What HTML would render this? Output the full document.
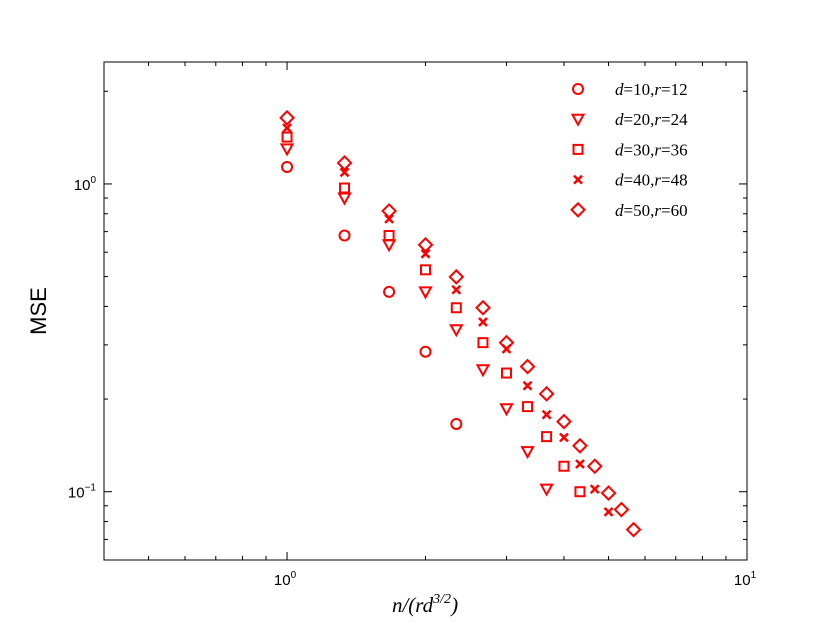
<!DOCTYPE html>
<html><head><meta charset="utf-8"><style>
html,body{margin:0;padding:0;background:#fff;}
svg{display:block;font-family:"Liberation Sans",sans-serif;}
.m{font-family:"Liberation Serif",serif;font-style:italic;}
</style></head><body>
<svg id="chart" width="830" height="623" viewBox="0 0 830 623"></svg>
<script>
const seriesLabels = ["d=10,r=12","d=20,r=24","d=30,r=36","d=40,r=48","d=50,r=60"];
const seriesMarkers = ["circle","triangle","square","x","diamond"];
const mse10 = [1.135,0.68,0.446,0.285,0.166];
const mse20 = [1.30,0.90,0.634,0.446,0.336,0.249,0.186,0.135,0.102];
const mse30 = [1.42,0.97,0.68,0.526,0.396,0.305,0.243,0.189,0.151,0.121,0.100];
const mse40 = [1.52,1.09,0.77,0.593,0.453,0.356,0.291,0.221,0.178,0.150,0.123,0.102,0.086];
const mse50 = [1.64,1.17,0.817,0.634,0.499,0.396,0.305,0.255,0.208,0.169,0.141,0.121,0.099,0.0875,0.0753];
const xStart = 1, xStep = 1/3;
const xTickLabels = ["0","1"];
const yTickLabels = ["-1","0"];

const NS="http://www.w3.org/2000/svg";
const svg=document.getElementById('chart');
const L=104,R=747,T=62,B=560;
const xmin=Math.log10(0.4),xmax=Math.log10(10);
const ymin=Math.log10(0.06),ymax=Math.log10(2.49);
const X=v=>L+(Math.log10(v)-xmin)/(xmax-xmin)*(R-L);
const Y=v=>B-(Math.log10(v)-ymin)/(ymax-ymin)*(B-T);
function mk(tag,attrs,parent){const e=document.createElementNS(NS,tag);for(const k in attrs)e.setAttribute(k,attrs[k]);(parent||svg).appendChild(e);return e;}

const frame=mk('rect',{x:L,y:T,width:R-L,height:B-T,fill:'none',stroke:'#000','stroke-width':1});



const tg=mk('g',{stroke:'#000','stroke-width':1});


function xt(v,len){const x=X(v);mk('line',{x1:x,y1:B,x2:x,y2:B-len},tg);mk('line',{x1:x,y1:T,x2:x,y2:T+len},tg);}
function yt(v,len){const y=Y(v);mk('line',{x1:L,y1:y,x2:L+len,y2:y},tg);mk('line',{x1:R,y1:y,x2:R-len,y2:y},tg);}
[0.5,0.6,0.7,0.8,0.9,2,3,4,5,6,7,8,9].forEach(v=>xt(v,4));
[1,10].forEach(v=>xt(v,8));
[0.07,0.08,0.09,0.2,0.3,0.4,0.5,0.6,0.7,0.8,0.9,2].forEach(v=>yt(v,4));
[0.1,1].forEach(v=>yt(v,8));

xTickLabels.forEach(p=>{
  const v=Math.pow(10,+p);
  const t=mk('text',{x:X(v)-2,y:B+25,'text-anchor':'middle','font-size':15});
  
  
  t.innerHTML='10<tspan dy="-7" font-size="10">'+p+'</tspan>';
});
yTickLabels.forEach(p=>{
  const v=Math.pow(10,+p);
  const t=mk('text',{x:L-8,y:Y(v)+6,'text-anchor':'end','font-size':15});
  
  
  t.innerHTML='10<tspan dy="-7" font-size="10">'+p.replace('-','\u2212')+'</tspan>';
});

const yl=mk('text',{x:0,y:0,transform:'translate(46,311) rotate(-90)','text-anchor':'middle','font-size':22});


yl.textContent='MSE';
const xl=mk('text',{x:425,y:612,'text-anchor':'middle','font-size':21,class:'m'});


xl.innerHTML='n/(rd<tspan dy="-9" font-size="14">3/2</tspan><tspan dy="9">)</tspan>';

function marker(type,cx,cy,g){
  const s={fill:'none',stroke:'#f00','stroke-width':2};
  if(type==='circle')return mk('circle',Object.assign({cx,cy,r:5},s),g);
  if(type==='triangle')return mk('polygon',Object.assign({points:`${cx-5.5},${cy-4.5} ${cx+5.5},${cy-4.5} ${cx},${cy+5.5}`},s),g);
  if(type==='square')return mk('rect',Object.assign({x:cx-4.5,y:cy-4.5,width:9,height:9},s),g);
  if(type==='x'){const p=mk('path',Object.assign({d:`M${cx-4},${cy-4}L${cx+4},${cy+4}M${cx-4},${cy+4}L${cx+4},${cy-4}`},s),g);p.setAttribute('stroke-width',2.5);return p;}
  return mk('polygon',Object.assign({points:`${cx},${cy-6.5} ${cx+6.5},${cy} ${cx},${cy+6.5} ${cx-6.5},${cy}`},s),g);
}
const allSeries=[mse10,mse20,mse30,mse40,mse50];
allSeries.forEach((arr,si)=>{
  const g=mk('g',{});
  
  
  arr.forEach((v,i)=>{
    const m=marker(seriesMarkers[si],X(xStart+i*xStep),Y(v),g);
    
    
  });
});

const lg=mk('g',{});


seriesLabels.forEach((lab,i)=>{
  const y=89+i*30.2;
  const e=mk('g',{},lg);
  
  
  marker(seriesMarkers[i],578,y,e);
  const m=lab.match(/d=(\d+),r=(\d+)/);
  const t=mk('text',{x:615,y:y+6,'font-size':17,class:'m'},e);
  t.innerHTML='d<tspan font-style="normal">=</tspan><tspan font-style="normal">'+m[1]+'</tspan><tspan font-style="normal">,</tspan>r<tspan font-style="normal">=</tspan><tspan font-style="normal">'+m[2]+'</tspan>';
});
</script>
</body></html>
